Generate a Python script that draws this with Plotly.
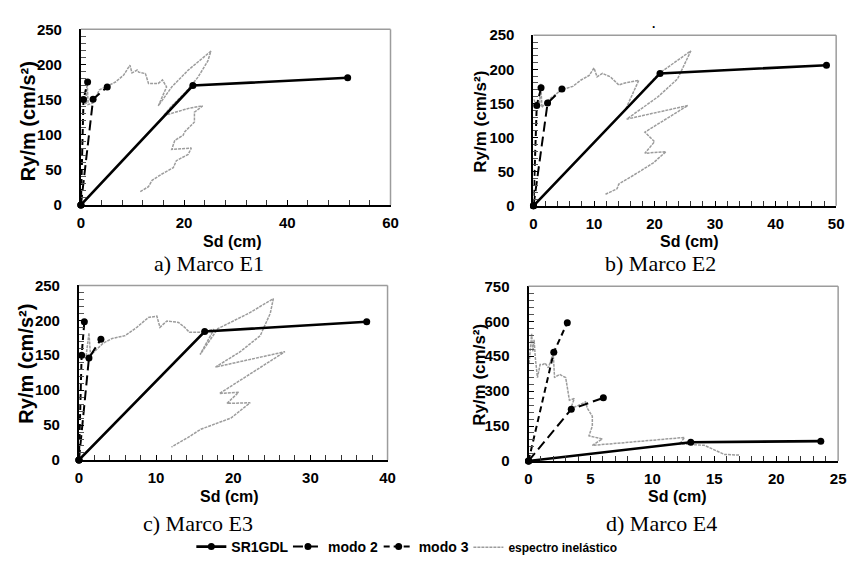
import plotly.graph_objects as go

W, H = 856, 563

# ---------------- data ----------------
panel_names = ["a) Marco E1", "b) Marco E2", "c) Marco E3", "d) Marco E4"]
series_names = ["SR1GDL", "modo 2", "modo 3", "espectro inelástico"]

# Panel a
sr_a_x = [0, 21.7, 51.7]
sr_a_y = [0, 170, 181]
m2_a_x = [0, 2.36, 5.1]
m2_a_y = [0, 150.5, 168]
m3_a_x = [0, 0.5, 1.3]
m3_a_y = [0, 150, 175]
sp_a_x = [0.2, 0.6, 1.0, 1.2, 1.4, 2.3, 3.6, 4.8, 6.7, 8.3, 9.0, 9.5, 9.9, 10.9, 11.2,
          12.5, 13.1, 15.0, 15.8, 16.6, 15.0, 17.6, 20.8, 25.2, 24.6, 22.7, 20.1, 17.6, 16.0, 18.2,
          21.1, 23.6, 22.0, 22.0, 20.1, 19.8, 18.2, 17.6, 21.4, 20.8, 18.5, 17.9, 15.7, 13.8, 13.1, 11.5]
sp_a_y = [152, 147, 143, 178, 143, 145, 164, 168, 175, 185, 194, 199, 188, 192, 189,
          187, 173, 173, 178, 168, 141, 168, 192, 219, 205, 182, 159, 141, 127, 132,
          138, 141, 132, 118, 104, 99, 92, 79, 81, 72, 63, 53, 44, 35, 26, 19]

# Panel b
sr_b_x = [0, 20.9, 48.4]
sr_b_y = [0, 194, 206]
m2_b_x = [0, 2.33, 4.7]
m2_b_y = [0, 150.6, 171]
m3_b_x = [0, 0.54, 1.25]
m3_b_y = [0, 147, 173]
sp_b_x = [0.0, 0.5, 1.0, 1.2, 1.4, 2.1, 3.2, 4.6, 6.5, 7.8, 9.2, 10.0, 10.5, 11.4, 12.7, 14.1,
          15.1, 17.4, 15.2, 20.6, 26.0, 23.8, 20.6, 15.4, 25.5, 18.4, 20.0, 18.4, 21.9, 19.8,
          17.3, 14.1, 13.8, 11.9]
sp_b_y = [156, 149, 146, 179, 144, 153, 160, 170, 175, 184, 191, 202, 189, 194, 189, 177,
          180, 184, 141, 193, 227, 186, 160, 127, 147, 108, 94, 77, 79.5, 63,
          49, 32, 25, 17]

# Panel c
sr_c_x = [0, 16.3, 37.3]
sr_c_y = [0, 184, 198]
m2_c_x = [0, 1.3, 2.85]
m2_c_y = [0, 146, 173]
m3_c_x = [0, 0.35, 0.7]
m3_c_y = [0, 150, 198]
sp_c_x = [0.2, 0.9, 1.3, 1.5, 2.0, 3.1, 4.3, 6.0, 7.5, 9.0, 10.1, 10.5, 11.4, 12.9, 13.7, 14.3,
          15.8, 17.5, 15.7, 18.0, 22.0, 25.2, 24.8, 23.5, 20.9, 17.7, 26.7, 18.2, 20.7, 19.2,
          22.2, 19.7, 15.8, 14.1, 12.0]
sp_c_y = [150, 146, 182, 150, 155, 167, 174, 178, 190, 204, 206, 190, 199, 197, 190, 183,
          183, 187, 151, 188, 210, 231, 210, 178, 155, 133, 155, 95, 97, 81,
          82, 60, 44, 32, 18.5]

# Panel d
sr_d_x = [0, 13.1, 23.6]
sr_d_y = [0, 80, 85]
m2_d_x = [0, 3.45, 6.04]
m2_d_y = [0, 222, 271]
m3_d_x = [0, 2.04, 3.13]
m3_d_y = [0, 467, 594]
sp_d_x = [0.05, 0.15, 0.25, 0.35, 0.45, 0.55, 0.72, 0.93, 1.17, 1.33, 1.6, 1.86, 2.0, 2.1, 2.5,
          3.0, 3.16, 3.3, 3.69, 3.42, 4.1, 4.6, 4.75, 5.15, 5.15, 4.88, 5.95, 5.15, 8.07, 12.6,
          12.3, 12.1, 14.2, 15.0, 15.8, 17.0]
sp_d_y = [420, 500, 546, 470, 520, 442, 358, 414, 414, 421, 400, 442, 455, 358, 372,
          358, 303, 261, 268, 226, 240, 254, 226, 192, 150, 108, 94, 67, 80, 101,
          80, 74, 67, 46, 28, 25]

panels = [
    dict(sr=(sr_a_x, sr_a_y), m2=(m2_a_x, m2_a_y), m3=(m3_a_x, m3_a_y), sp=(sp_a_x, sp_a_y)),
    dict(sr=(sr_b_x, sr_b_y), m2=(m2_b_x, m2_b_y), m3=(m3_b_x, m3_b_y), sp=(sp_b_x, sp_b_y)),
    dict(sr=(sr_c_x, sr_c_y), m2=(m2_c_x, m2_c_y), m3=(m3_c_x, m3_c_y), sp=(sp_c_x, sp_c_y)),
    dict(sr=(sr_d_x, sr_d_y), m2=(m2_d_x, m2_d_y), m3=(m3_d_x, m3_d_y), sp=(sp_d_x, sp_d_y)),
]

x_ranges = [[0, 60], [0, 50], [0, 40], [0, 25]]
y_ranges = [[0, 250], [0, 250], [0, 250], [0, 750]]
x_dtick = [20, 10, 10, 5]
y_dtick = [50, 50, 50, 150]
x_minor = [4, 2, 2, 1]
y_minor = [10, 10, 10, 30]

# ---------------- layout geometry (pixels) ----------------
boxes = [  # left, right, top, bottom
    (78, 392, 21, 202),
    (537, 844, 27, 203),
    (76, 389, 285, 465),
    (532, 846, 286, 466),
]

SANS = "Liberation Sans, Arial, sans-serif"
SERIF = "Liberation Serif, Times New Roman, serif"
GRAY = "#9c9c9c"

legend_text_x = [232, 330, 422, 513]
legend_sizes = [14, 14, 14, 12]
legend_keys = ["legend", "legend2", "legend3", "legend4"]

fig = go.Figure()

for i, p in enumerate(panels):
    xa = "x" if i == 0 else f"x{i+1}"
    ya = "y" if i == 0 else f"y{i+1}"
    show = i == 0
    fig.add_trace(go.Scatter(
        x=p["sp"][0], y=p["sp"][1], mode="lines", xaxis=xa, yaxis=ya,
        line=dict(color=GRAY, width=1.5, dash="3px,1px"), name=series_names[3],
        legend=legend_keys[3], showlegend=show, cliponaxis=False))
    fig.add_trace(go.Scatter(
        x=p["m3"][0], y=p["m3"][1], mode="lines+markers", xaxis=xa, yaxis=ya,
        line=dict(color="black", width=2, dash="6px,4px"),
        marker=dict(color="black", size=7), name=series_names[2],
        legend=legend_keys[2], showlegend=show, cliponaxis=False))
    fig.add_trace(go.Scatter(
        x=p["m2"][0], y=p["m2"][1], mode="lines+markers", xaxis=xa, yaxis=ya,
        line=dict(color="black", width=2, dash="10px,5px"),
        marker=dict(color="black", size=7), name=series_names[1],
        legend=legend_keys[1], showlegend=show, cliponaxis=False))
    fig.add_trace(go.Scatter(
        x=p["sr"][0], y=p["sr"][1], mode="lines+markers", xaxis=xa, yaxis=ya,
        line=dict(color="black", width=2.6),
        marker=dict(color="black", size=7), name=series_names[0],
        legend=legend_keys[0], showlegend=show, cliponaxis=False))

layout = {}
for i, (l, r, t, b) in enumerate(boxes):
    xk = "xaxis" if i == 0 else f"xaxis{i+1}"
    yk = "yaxis" if i == 0 else f"yaxis{i+1}"
    xa = "x" if i == 0 else f"x{i+1}"
    ya = "y" if i == 0 else f"y{i+1}"
    common = dict(showline=True, linecolor="black", linewidth=2, ticks="inside",
                  ticklen=5, tickwidth=1, tickcolor="black", showgrid=False,
                  zeroline=False,
                  tickfont=dict(family=SANS, size=15, color="black", weight="bold"))
    layout[xk] = dict(common, domain=[l / W, r / W], anchor=ya, range=x_ranges[i],
                      dtick=x_dtick[i], tick0=0, ticklabelstandoff=3,
                      minor=dict(ticks="inside", ticklen=5, tickcolor="#333",
                                 dtick=x_minor[i], tick0=0))
    layout[yk] = dict(common, domain=[1 - b / H, 1 - t / H], anchor=xa, range=y_ranges[i],
                      dtick=y_dtick[i], tick0=0, ticklabelstandoff=14,
                      minor=dict(ticks="inside", ticklen=5, tickcolor="#555",
                                 dtick=y_minor[i], tick0=0))

for k, tx, fs in zip(legend_keys, legend_text_x, legend_sizes):
    layout[k] = dict(orientation="h", x=(tx - 42) / W, xanchor="left", y=1 - 555 / H,
                     yanchor="middle", itemwidth=30, bgcolor="rgba(0,0,0,0)",
                     borderwidth=0,
                     font=dict(family=SANS, size=fs, color="black", weight="bold"))

fig.update_layout(**layout)

shapes = []
for i in range(4):
    xa = "x" if i == 0 else f"x{i+1}"
    ya = "y" if i == 0 else f"y{i+1}"
    shapes.append(dict(type="line", xref=f"{xa} domain", yref=f"{ya} domain",
                       x0=0, x1=1, y0=1, y1=1, line=dict(color=GRAY, width=1.5)))
    shapes.append(dict(type="line", xref=f"{xa} domain", yref=f"{ya} domain",
                       x0=1, x1=1, y0=0, y1=1, line=dict(color=GRAY, width=1.5)))

annotations = []
ytitles = [(25, 116, 20), (483, 116, 17), (22, 366, 20), (482, 377, 17)]
for (xp, yp, sz) in ytitles:
    annotations.append(dict(text="Ry/m (cm/s²)", x=xp / W, y=1 - yp / H, xref="paper", yref="paper",
                            showarrow=False, textangle=-90, xanchor="center", yanchor="middle",
                            font=dict(family=SANS, size=sz, color="black", weight="bold")))
xtitles = [(232, 240), (695, 240), (229, 503), (683, 503)]
for (xp, yp) in xtitles:
    annotations.append(dict(text="Sd (cm)", x=xp / W, y=1 - yp / H, xref="paper", yref="paper",
                            showarrow=False, xanchor="center", yanchor="middle",
                            font=dict(family=SANS, size=16, color="black", weight="bold")))
captions = [(208, 262), (666, 262), (197, 531), (667, 531)]
for name, (xp, yp) in zip(panel_names, captions):
    annotations.append(dict(text=name, x=xp / W, y=1 - yp / H, xref="paper", yref="paper",
                            showarrow=False, xanchor="center", yanchor="middle",
                            font=dict(family=SERIF, size=22, color="black")))
annotations.append(dict(text=".", x=659 / W, y=1 - 15 / H, xref="paper", yref="paper",
                        showarrow=False, xanchor="center", yanchor="middle",
                        font=dict(family=SANS, size=12, color="black", weight="bold")))

fig.update_layout(
    width=W, height=H,
    margin=dict(l=0, r=0, t=0, b=0),
    paper_bgcolor="white", plot_bgcolor="white",
    shapes=shapes, annotations=annotations,
    showlegend=True,
)

# remove the default page margin synchronously (runs right after newPlot is called)
page_fix = ("}); document.body.style.margin='0px'; document.body.style.padding='0px';"
            " document.body.style.overflow='hidden'; Promise.resolve().then(function(){")

fig.write_html(
    "out.html",
    config={"displayModeBar": False},
    post_script=page_fix,
)
